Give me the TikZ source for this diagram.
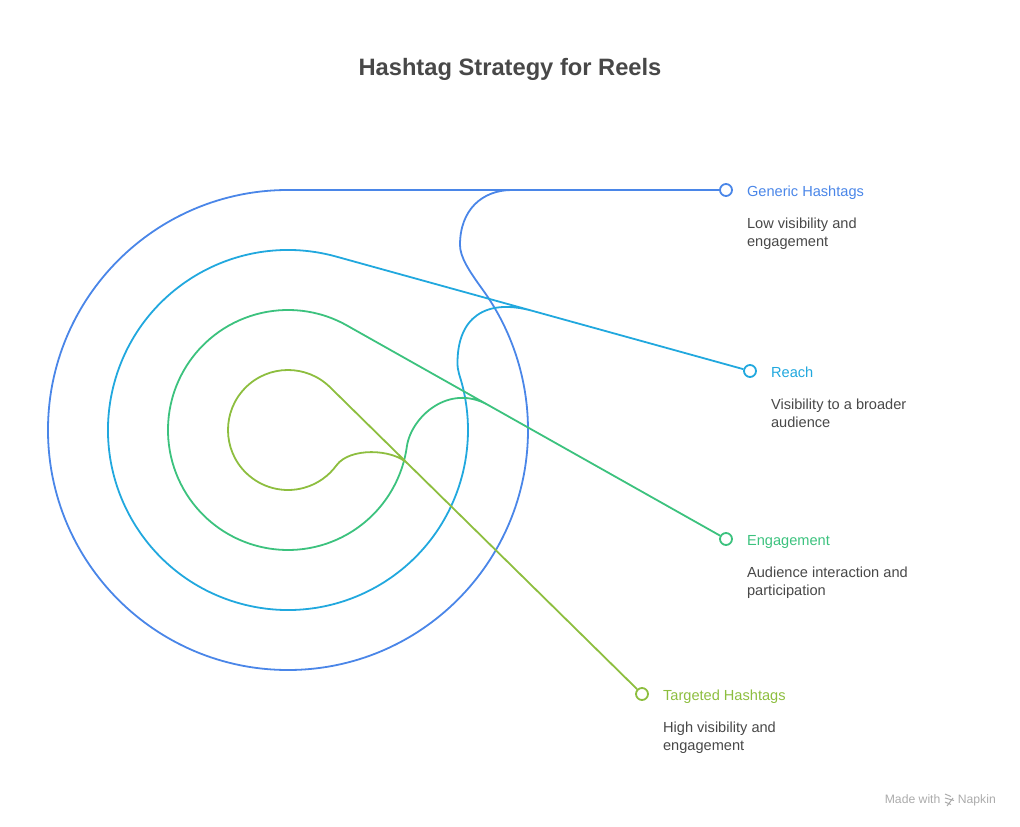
\documentclass[tikz,border=0pt]{standalone}
\usepackage{fontspec}
\setmainfont{Liberation Sans}
\usetikzlibrary{positioning}
\definecolor{cBlue}{HTML}{4A86E8}
\definecolor{cCyan}{HTML}{21A8DE}
\definecolor{cGreen}{HTML}{3CC27E}
\definecolor{cOlive}{HTML}{8DBE3F}
\definecolor{txtgray}{HTML}{484848}
\definecolor{wmgray}{HTML}{ABABAB}
\begin{document}
\begin{tikzpicture}[x=1pt,y=1pt,
    ring/.style={line width=1.8pt},
    marker/.style={circle, draw, fill=white, line width=1.8pt, minimum size=12pt, inner sep=0pt},
    lbl/.style={font=\fontsize{14.6}{18}\selectfont, inner sep=0pt},
    desc/.style={font=\fontsize{14.6}{18}\selectfont, text=txtgray, align=left, inner sep=0pt},
    wm/.style={font=\fontsize{12.2}{14}\selectfont, text=wmgray, inner sep=0pt}]
\useasboundingbox (-288,-397) rectangle (732,430);
% title
\node[font=\fontsize{23.7}{28}\selectfont\bfseries, text=txtgray] (title) at (222,361) {Hashtag Strategy for Reels};
% end markers
\node[marker, draw=cBlue] (gm) at (438,240) {};
\node[marker, draw=cCyan] (rm) at (462,59) {};
\node[marker, draw=cGreen] (em) at (438,-109) {};
\node[marker, draw=cOlive] (tm) at (354,-264) {};
% spirals
\draw[ring, cBlue] (gm) -- (0,240) arc[start angle=90, end angle=396, radius=240]
    to[out=126, in=270, out distance=22, in distance=12] (172,185)
    to[out=90, in=180, out distance=35, in distance=30] (224,240);
\draw[ring, cCyan] (rm) -- (74.54:180) arc[start angle=74.54, end angle=375, radius=180]
    to[out=105, in=270, out distance=8, in distance=8] (169.5,67)
    to[out=90, in=164.54, out distance=45, in distance=50] (245,119.01);
\draw[ring, cGreen] (em) -- (60.61:120) arc[start angle=60.61, end angle=352, radius=120]
    to[out=82, in=150.61, out distance=30, in distance=45] (200,25.07);
\draw[ring, cOlive] (tm) -- (45.48:60) arc[start angle=45.48, end angle=324, radius=60]
    to[out=54, in=135.48, out distance=22, in distance=22] (120,-33.86);
% labels
\node[lbl, text=cBlue, right=14pt of gm, anchor=base west, yshift=-6.7pt] (gt) {Generic Hashtags};
\node[desc, below=21pt of gt.base west, anchor=north west] (gd) {Low visibility and\\engagement};
\node[lbl, text=cCyan, right=14pt of rm, anchor=base west, yshift=-6.7pt] (rt) {Reach};
\node[desc, below=21pt of rt.base west, anchor=north west] (rd) {Visibility to a broader\\audience};
\node[lbl, text=cGreen, right=14pt of em, anchor=base west, yshift=-6.7pt] (et) {Engagement};
\node[desc, below=21pt of et.base west, anchor=north west] (ed) {Audience interaction and\\participation};
\node[lbl, text=cOlive, right=14pt of tm, anchor=base west, yshift=-6.7pt] (tt) {Targeted Hashtags};
\node[desc, below=21pt of tt.base west, anchor=north west] (td) {High visibility and\\engagement};
% watermark
\node[wm, anchor=base east] (nk) at (708,-373) {Napkin};
\node[wm, left=17pt of nk.base west, anchor=base east] (mw) {Made with};
\draw[wmgray, line width=1pt] (657,-364) -- (663,-366.5) (657,-368) -- (666,-370.5) (657,-372) -- (663,-374.5)
    (659,-376) -- (665,-368);
\end{tikzpicture}
\end{document}
